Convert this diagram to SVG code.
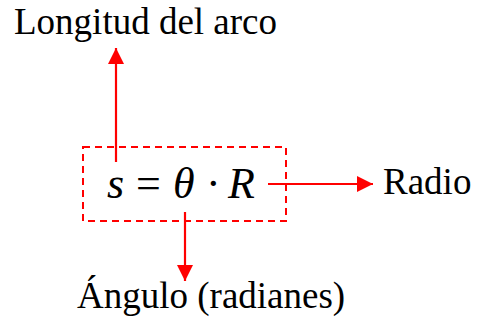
<svg xmlns="http://www.w3.org/2000/svg" width="490" height="330" viewBox="0 0 490 330">
<style>
text{font-family:'Liberation Serif','DejaVu Serif',serif;fill:#000}
.lbl{font-size:37px}
.eq{font-size:44px}
.it{font-style:italic}
.conn{stroke:#ff0000;stroke-width:2.2;fill:none}
.box{stroke:#ff0000;stroke-width:2;fill:none;stroke-dasharray:7,5}
</style>
<defs>
<marker id="ah" viewBox="0 0 10 10" refX="10" refY="5" markerWidth="16" markerHeight="16" markerUnits="userSpaceOnUse" orient="auto">
<path d="M0,0 L10,5 L0,10 Z" fill="#ff0000"/>
</marker>
</defs>
<rect width="490" height="330" fill="#fff"/>
<g id="formula">
<rect class="box" x="83" y="147" width="203" height="74"/>
<text class="eq" y="198"><tspan class="it" x="107">s</tspan><tspan x="136">=</tspan><tspan class="it" x="173">θ</tspan><tspan x="206">·</tspan><tspan class="it" x="228">R</tspan></text>
</g>
<g id="longitud"><text class="lbl" x="14" y="34">Longitud del arco</text></g>
<g id="radio"><text class="lbl" x="383" y="194">Radio</text></g>
<g id="angulo"><text class="lbl" x="77" y="308">Ángulo (radianes)</text></g>
<g id="connectors">
<line class="conn" x1="116" y1="162" x2="116" y2="48" marker-end="url(#ah)"/>
<line class="conn" x1="268" y1="184" x2="373" y2="184" marker-end="url(#ah)"/>
<line class="conn" x1="185" y1="212" x2="185" y2="281" marker-end="url(#ah)"/>
</g>
</svg>
